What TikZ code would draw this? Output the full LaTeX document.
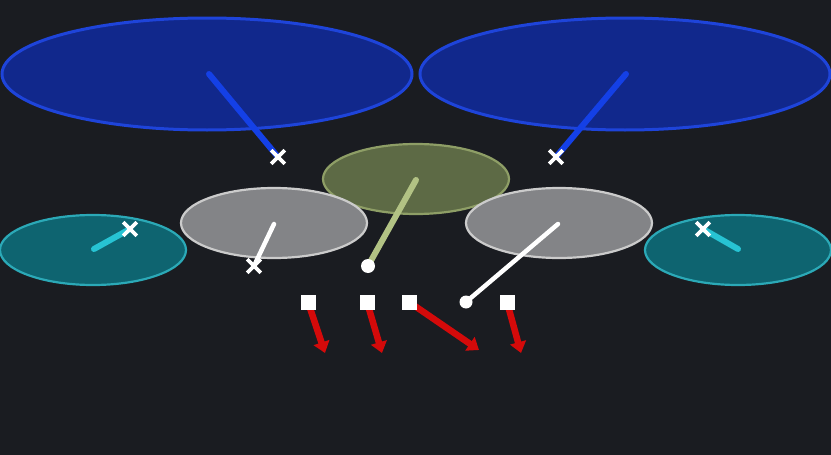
\documentclass[tikz,border=0pt]{standalone}
\usetikzlibrary{shapes.geometric,shapes.misc,arrows.meta}
\definecolor{bg}{HTML}{1A1C21}
\definecolor{bluefill}{HTML}{11288C}
\definecolor{blueedge}{HTML}{1E44DA}
\definecolor{blueline}{HTML}{1440E6}
\definecolor{greenfill}{HTML}{5D6A45}
\definecolor{greenedge}{HTML}{8E9E66}
\definecolor{greenline}{HTML}{B2C284}
\definecolor{grayfill}{HTML}{838487}
\definecolor{grayedge}{HTML}{CBCBCB}
\definecolor{tealfill}{HTML}{0E6470}
\definecolor{tealedge}{HTML}{2BA9B7}
\definecolor{tealline}{HTML}{27C3D3}
\definecolor{redline}{HTML}{D40A0A}
\tikzset{
  blob/.style={ellipse, inner sep=0pt, line width=2.2pt},
  bigblue/.style={blob, fill=bluefill, draw=blueedge, line width=3pt, minimum width=410pt, minimum height=112pt},
  midblob/.style={blob, minimum width=186pt, minimum height=70pt},
  greenblob/.style={midblob, fill=greenfill, draw=greenedge},
  grayblob/.style={midblob, fill=grayfill, draw=grayedge},
  tealblob/.style={midblob, fill=tealfill, draw=tealedge},
  xmark/.style={cross out, draw=white, line width=3.6pt, minimum size=10pt, inner sep=0pt},
  dotmark/.style={circle, fill=white, minimum size=14pt, inner sep=0pt},
  sqmark/.style={rectangle, fill=white, minimum size=15pt, inner sep=0pt},
  link/.style={line width=6pt, line cap=round},
  redarrow/.style={line width=6.5pt, draw=redline, -{Triangle[length=11pt,width=16pt]}},
}
\begin{document}
\begin{tikzpicture}[x=1pt,y=-1pt]
\fill[bg] (0,0) rectangle (831,455);
\useasboundingbox (0,0) rectangle (831,455);
% ellipses
\node[bigblue] (bl) at (207,74) {};
\node[bigblue] (br) at (625,74) {};
\node[greenblob] (g) at (416,179) {};
\node[grayblob] (gl) at (274,223) {};
\node[grayblob] (gr) at (559,223) {};
\node[tealblob] (tl) at (93,250) {};
\node[tealblob] (tr) at (738,250) {};
% anchor points
\coordinate (blc) at (209,74);
\coordinate (brc) at (626,74);
\coordinate (gc) at (416,180);
\coordinate (glc) at (274,224);
\coordinate (grc) at (558,224);
\coordinate (tlc) at (94,249);
\coordinate (trc) at (738,249);
% end markers
\coordinate (xbl) at (278,157);
\coordinate (xbr) at (556,157);
\coordinate (xgl) at (254,266);
\coordinate (dg) at (368,266);
\coordinate (dgr) at (466,302);
\coordinate (xtl) at (130,229);
\coordinate (xtr) at (703,229);
% links
\draw[link, blueline] (blc) -- (xbl);
\draw[link, blueline] (brc) -- (xbr);
\draw[link, greenline] (gc) -- (dg);
\draw[link, white, line width=4.5pt] (glc) -- (xgl);
\draw[link, white, line width=4.5pt] (grc) -- (dgr);
\draw[link, tealline] (tlc) -- (xtl);
\draw[link, tealline] (trc) -- (xtr);
% markers
\node[xmark] (mbl) at (xbl) {};
\node[xmark] (mbr) at (xbr) {};
\node[xmark] (mgl) at (xgl) {};
\node[xmark] (mtl) at (xtl) {};
\node[xmark] (mtr) at (xtr) {};
\node[dotmark] (mdg) at (dg) {};
\node[dotmark, minimum size=13pt] (mdgr) at (dgr) {};
% squares and red arrows
\coordinate (a1) at (325,353);
\coordinate (a2) at (382,353);
\coordinate (a3) at (479,350);
\coordinate (a4) at (521,353);
\coordinate (s1c) at (308,302);
\coordinate (s2c) at (367,302);
\coordinate (s3c) at (409,302);
\coordinate (s4c) at (507,302);
\draw[redarrow] (s1c) -- (a1);
\draw[redarrow] (s2c) -- (a2);
\draw[redarrow] (s3c) -- (a3);
\draw[redarrow] (s4c) -- (a4);
\node[sqmark] (s1) at (s1c) {};
\node[sqmark] (s2) at (s2c) {};
\node[sqmark] (s3) at (s3c) {};
\node[sqmark] (s4) at (s4c) {};
\end{tikzpicture}
\end{document}
